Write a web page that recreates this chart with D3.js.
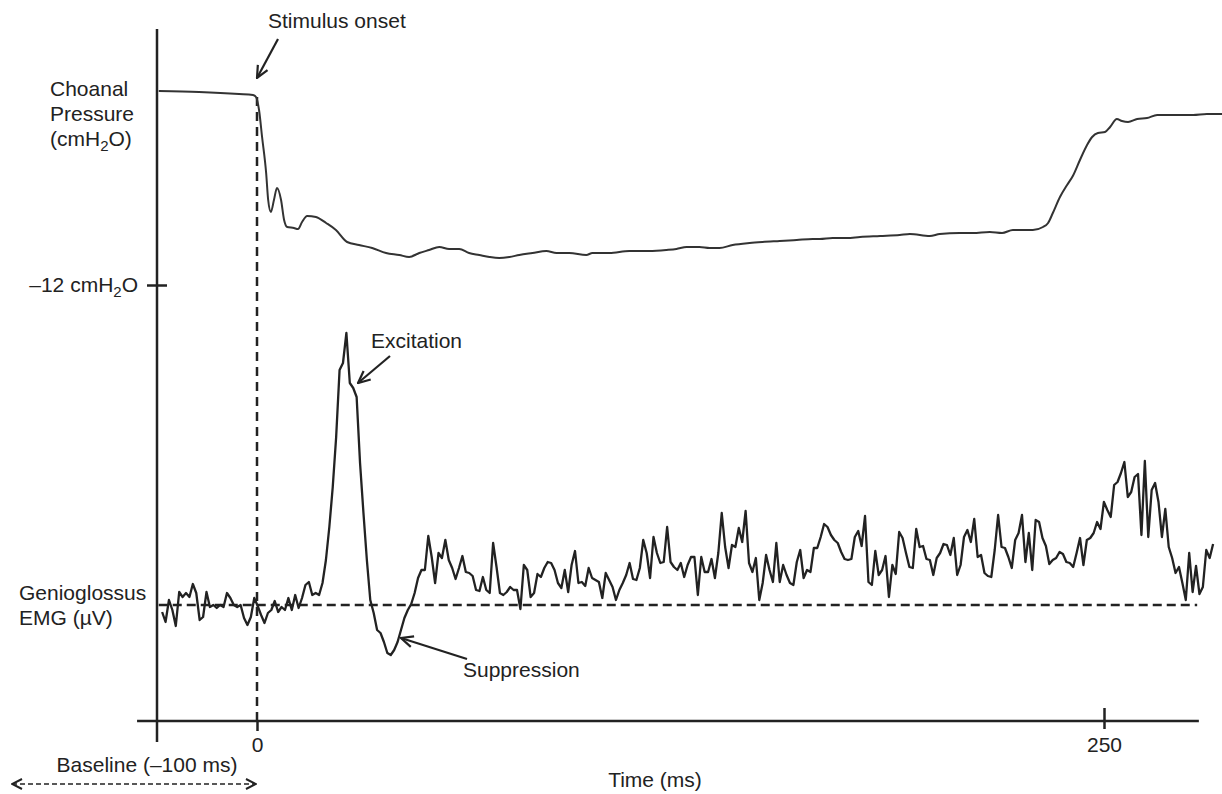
<!DOCTYPE html>
<html>
<head>
<meta charset="utf-8">
<script src="https://cdn.jsdelivr.net/npm/d3@7"></script>
<style>
  html, body { margin: 0; padding: 0; background: #fff; }
  svg { display: block; font-family: "Liberation Sans", Arial, sans-serif; }
  text { fill: #222; }
</style>
</head>
<body>
<div id="chart"></div>
<script>
// time axis (ms)
const timeTicks = [0, 250]

// choanal pressure trace: time (ms) and pressure (cmH2O)
const pressTime = [-29.0, -17.1, -5.3, -1.2, -0.3, 0.6, 1.5, 2.7, 3.3, 4.1, 5.0, 5.9, 7.1, 8.0, 8.9, 10.9, 12.1, 13.3, 14.8, 17.4,
  20.4, 23.3, 26.6, 30.1, 34.0, 38.1, 42.0, 44.9, 47.9, 50.8, 53.8, 56.7, 59.7, 62.6, 65.6, 68.6, 71.5, 74.5, 77.4, 81.3,
  85.4, 88.4, 92.2, 97.2, 99.0, 104.0, 109.9, 115.8, 120.9, 123.8, 126.8, 130.6, 133.6, 136.5, 140.4, 145.4, 149.2, 154.3, 159.3, 164.0,
  166.1, 169.9, 174.1, 178.0, 183.9, 189.7, 192.7, 198.6, 201.5, 207.4, 211.3, 216.3, 219.9, 223.1, 229.0, 232.0, 233.5, 234.9, 237.0, 239.1,
  240.8, 242.9, 245.0, 246.5, 248.2, 250.3, 251.8, 253.8, 255.3, 257.1, 259.8, 262.7, 265.7, 270.4, 276.3, 280.4, 284.9]
const pressValue = [-2.30, -2.35, -2.45, -2.50, -2.60, -3.25, -4.60, -6.40, -7.75, -8.35, -7.75, -7.15, -7.75, -8.75, -9.10, -9.15, -9.20, -8.85, -8.55, -8.60,
  -8.90, -9.25, -9.85, -10.00, -10.15, -10.40, -10.50, -10.60, -10.40, -10.25, -10.10, -10.20, -10.20, -10.40, -10.50, -10.60, -10.65, -10.60, -10.50, -10.40,
  -10.30, -10.40, -10.40, -10.50, -10.40, -10.40, -10.30, -10.30, -10.25, -10.20, -10.10, -10.10, -10.15, -10.15, -10.00, -9.90, -9.85, -9.80, -9.75, -9.70,
  -9.70, -9.65, -9.65, -9.60, -9.55, -9.50, -9.45, -9.55, -9.45, -9.40, -9.40, -9.35, -9.40, -9.25, -9.25, -9.10, -8.90, -8.40, -7.60, -7.00,
  -6.55, -5.75, -5.00, -4.60, -4.40, -4.35, -4.10, -3.70, -3.80, -3.85, -3.70, -3.65, -3.50, -3.50, -3.50, -3.45, -3.45]
const pressureTick = -12

// genioglossus EMG, sampled from emgStart to emgEnd (ms), values in µV
const emgStart = -28.0, emgEnd = 282.2
const emgBaseline = 15
const emgValues = [13.6, 11.6, 16, 14, 10.8, 17.6, 16.6, 17.4, 16.6, 19.2, 17.4, 12, 12.6, 17.6, 14.6, 15, 14.4, 15, 14.6, 17.4,
  16.4, 15, 14.6, 15, 12.4, 11, 12.6, 16.4, 14.8, 13, 11.4, 13.4, 14, 15.8, 13.6, 14.6, 14, 16.4, 14, 17,
  14.4, 16.4, 19, 19.6, 17, 17.4, 17, 19.4, 24, 30.6, 38.6, 48.6, 62, 63.4, 69.4, 59.4, 58.4, 56.6, 43.4, 33.4,
  24, 16, 13.4, 10, 9.4, 7.6, 5.4, 5, 6,
  7.6, 10, 12.4, 14, 15.2, 17.4, 20.4, 22, 22, 28.8, 24.6, 19.4, 25.4, 24.4, 28, 24, 22.4, 20.2, 22.4, 24.8,
  21.6, 21.4, 20.8, 18, 17.8, 20.6, 18, 17.4, 27.4, 22.6, 17.4, 17, 17.6, 18.6, 18, 18, 14.2, 23, 22, 16.6,
  17.4, 21.2, 20.6, 22.4, 23.6, 23.4, 22, 19.4, 18.4, 22, 17.6, 23, 25.8, 19.4, 19.6, 18.8, 22.4, 20.4, 20, 19.6,
  16.4, 21.4, 20, 18.6, 16, 18, 19.4, 21, 23.4, 20.2, 20, 22.4, 28, 25.4, 20.4, 28.6, 25.4, 23.4, 23.6, 30.6,
  23.6, 22.6, 22, 23.4, 20.6, 23, 24.6, 24.6, 17, 24.6, 21.6, 21.6, 24.2, 20.4, 25.4, 33.4, 26.6, 22.4, 27, 26.6,
  30.4, 27.6, 33.8, 23.4, 21.6, 24.4, 16, 19.4, 25, 22, 19.6, 27.4, 19.6, 23, 21, 19.4, 19, 23.6, 26, 20.4,
  22, 21.6, 26.4, 26.4,
  28.6, 31.2, 30.6, 29, 28, 27.4, 25.6, 24.2, 24, 24.2, 28.6, 29.8, 26.8, 32.8, 19.6, 19, 25.8, 21, 22, 24.8,
  16.6, 23, 21.2, 29.6, 28.4, 25.4, 22.6, 22.4, 30.2, 26.6, 26.8, 24.2, 24, 21, 24.4, 25.4, 27.2, 27, 25, 28.4,
  21, 23, 28.6, 30, 27.6, 32.2, 24.6, 25, 21.4, 20.8, 20.6, 26, 33, 26.6, 26.4, 24.6, 22.4, 28, 29.4, 33,
  23.6, 29.4, 22, 32, 31.6, 28.4, 26.8, 23.2, 24, 24.4, 25.6, 25.2, 23.6, 23.4, 22.6, 25.4, 28.4, 23, 28, 28.4,
  29.4, 31.6, 30.2, 35.6, 34, 32.6, 39, 39.6, 41.4, 43.6, 36.6, 37.6, 40.6, 41.2, 29, 43.8, 28.6, 38, 39.4, 35.6,
  28.6, 34.2, 26.6, 24.4, 21.4, 22.6, 19.4, 16, 25.4, 17.6, 22.8, 17.2, 18.6, 26, 24.4, 27.2]

const width = 1222, height = 794
const ink = '#222'
const fontSize = 21

const svg = d3.select('#chart').append('svg')
    .attr('width', width)
    .attr('height', height)
    .attr('viewBox', [0, 0, width, height])

const x = d3.scaleLinear().domain([0, 250]).range([257, 1104])
const yP = d3.scaleLinear().domain([-12, 0]).range([285, 45])
const yE = d3.scaleLinear().domain([0, 100]).range([680, 180])
const axisY = 721

const defs = svg.append('defs')
defs.append('marker')
    .attr('id', 'arrow')
    .attr('viewBox', '0 0 14 14')
    .attr('refX', 13).attr('refY', 7)
    .attr('markerWidth', 14).attr('markerHeight', 14)
    .attr('markerUnits', 'userSpaceOnUse')
    .attr('orient', 'auto-start-reverse')
    .append('path')
    .attr('d', 'M1,1.5 L13,7 L1,12.5')
    .attr('fill', 'none')
    .attr('stroke', ink)
    .attr('stroke-width', 2.2)
defs.append('marker')
    .attr('id', 'arrow-small')
    .attr('viewBox', '0 0 12 12')
    .attr('refX', 11).attr('refY', 6)
    .attr('markerWidth', 12).attr('markerHeight', 12)
    .attr('markerUnits', 'userSpaceOnUse')
    .attr('orient', 'auto-start-reverse')
    .append('path')
    .attr('d', 'M1,1 L11,6 L1,11')
    .attr('fill', 'none')
    .attr('stroke', ink)
    .attr('stroke-width', 2)

// vertical axis line
svg.append('line')
    .attr('x1', 157).attr('x2', 157)
    .attr('y1', 29).attr('y2', 742)
    .attr('stroke', ink).attr('stroke-width', 2.5)

// pressure tick
const yAxis = svg.append('g')
    .attr('transform', 'translate(157,0)')
    .call(d3.axisLeft(yP).tickValues([pressureTick]).tickSize(10).tickFormat(''))
yAxis.select('.domain').remove()
yAxis.selectAll('.tick line').attr('x1', 10).attr('x2', -10).attr('stroke', ink).attr('stroke-width', 2.5)

// time axis
const xAxis = svg.append('g')
    .attr('transform', `translate(0,${axisY})`)
    .call(d3.axisBottom(x).tickValues(timeTicks).tickSize(10))
xAxis.select('.domain').remove()
xAxis.append('line')
    .attr('x1', x(-35.4)).attr('x2', x(278))
    .attr('stroke', ink).attr('stroke-width', 2.5)
xAxis.selectAll('.tick line')
    .attr('y1', d => d === 250 ? -13 : 0)
    .attr('y2', d => d === 250 ? 8 : 10)
    .attr('stroke', ink).attr('stroke-width', 2.5)
xAxis.selectAll('.tick text')
    .attr('y', 24).attr('dy', '0.35em')
    .attr('font-size', fontSize)
    .attr('font-family', '"Liberation Sans", Arial, sans-serif')
    .attr('fill', ink)

// stimulus onset dashed line
svg.append('line')
    .attr('x1', x(0)).attr('x2', x(0))
    .attr('y1', yP(pressValue[4])).attr('y2', axisY)
    .attr('stroke', ink).attr('stroke-width', 2.5)
    .attr('stroke-dasharray', '9,6')

// EMG baseline
svg.append('line')
    .attr('x1', x(-29)).attr('x2', x(277.5))
    .attr('y1', yE(emgBaseline)).attr('y2', yE(emgBaseline))
    .attr('stroke', ink).attr('stroke-width', 2.5)
    .attr('stroke-dasharray', '9,5')

// pressure trace
const pressData = pressTime.map((t, i) => [t, pressValue[i]])
svg.append('path')
    .datum(pressData)
    .attr('fill', 'none')
    .attr('stroke', '#333')
    .attr('stroke-width', 2)
    .attr('stroke-linejoin', 'round')
    .attr('d', d3.line().x(d => x(d[0])).y(d => yP(d[1])).curve(d3.curveMonotoneX))

// EMG trace
const emgStep = (emgEnd - emgStart) / (emgValues.length - 1)
const emgData = emgValues.map((v, i) => [emgStart + i * emgStep, v])
svg.append('path')
    .datum(emgData)
    .attr('fill', 'none')
    .attr('stroke', ink)
    .attr('stroke-width', 2.3)
    .attr('stroke-linejoin', 'round')
    .attr('d', d3.line().x(d => x(d[0])).y(d => yE(d[1])))

// labels
function label(txt, px, py, anchor) {
    return svg.append('text')
        .attr('x', px).attr('y', py)
        .attr('font-size', fontSize)
        .attr('text-anchor', anchor || 'start')
        .text(txt)
}
function withSub(t) {
    t.append('tspan').text('cmH')
    t.append('tspan').attr('font-size', 15).attr('dy', 5).text('2')
    t.append('tspan').attr('dy', -5).text('O')
    return t
}

label('Choanal', 50, 96)
label('Pressure', 50, 121)
const pl = label('(', 50, 146)
withSub(pl)
pl.append('tspan').text(')')

const tl = label('–12 ', 138, 292, 'end')
withSub(tl)

label('Genioglossus', 19, 600)
label('EMG (µV)', 19, 625)

label('Stimulus onset', 268, 28)
svg.append('line')
    .attr('x1', 278).attr('y1', 39).attr('x2', 257).attr('y2', 78)
    .attr('stroke', ink).attr('stroke-width', 2.2)
    .attr('marker-end', 'url(#arrow)')

label('Excitation', 371, 348)
svg.append('line')
    .attr('x1', 390).attr('y1', 356).attr('x2', 358).attr('y2', 383)
    .attr('stroke', ink).attr('stroke-width', 2.2)
    .attr('marker-end', 'url(#arrow)')

label('Suppression', 463, 677)
svg.append('line')
    .attr('x1', 467).attr('y1', 659).attr('x2', 401).attr('y2', 638)
    .attr('stroke', ink).attr('stroke-width', 2.2)
    .attr('marker-end', 'url(#arrow)')

label('Baseline (–100 ms)', 147, 772, 'middle')
svg.append('line')
    .attr('x1', 12).attr('y1', 784).attr('x2', 256).attr('y2', 784)
    .attr('stroke', ink).attr('stroke-width', 1.6)
    .attr('stroke-dasharray', '5,3')
    .attr('marker-start', 'url(#arrow-small)')
    .attr('marker-end', 'url(#arrow-small)')

label('Time (ms)', 655, 787, 'middle')
</script>
</body>
</html>
